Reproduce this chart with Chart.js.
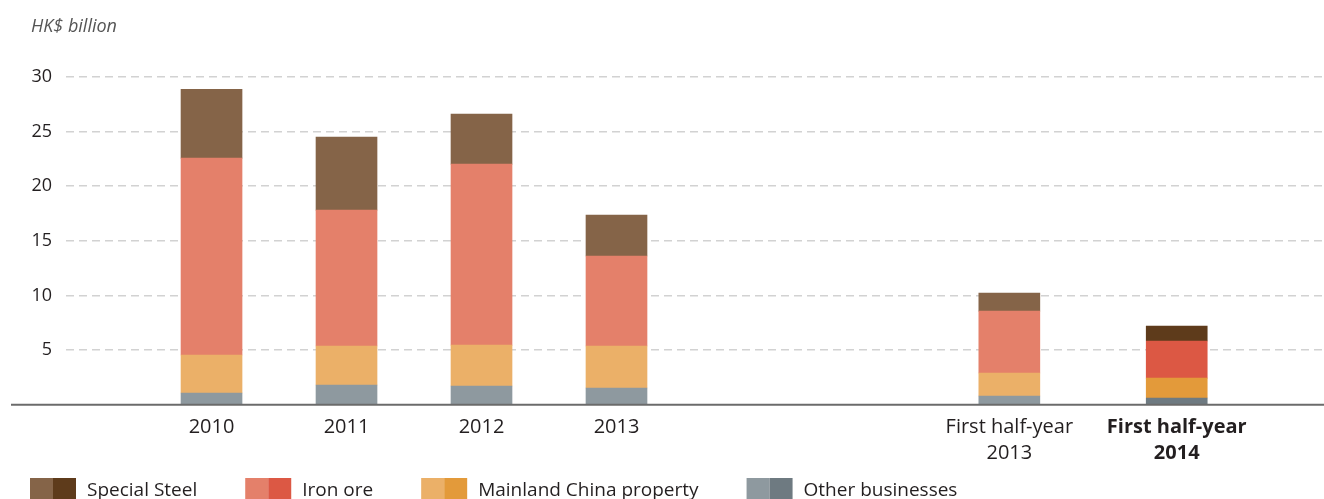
<!DOCTYPE html>
<html>
<head>
<meta charset="utf-8">
<script src="https://cdn.jsdelivr.net/npm/chart.js@4/dist/chart.umd.min.js"></script>
<style>
  body { margin: 0; background: #fff; }
  #chart { display: block; }
</style>
</head>
<body>
<canvas id="chart" width="1324" height="499"></canvas>
<script>
// categories (multi-line labels) and where they sit on the x axis
const periods = [['2010'], ['2011'], ['2012'], ['2013'], ['First half-year', '2013'], ['First half-year', '2014']];
const periodSlots = [0, 1, 2, 3, 5.91, 7.15];

// HK$ billion, bottom to top of each stack
const otherBusinesses = [1.07, 1.80, 1.71, 1.53, 0.80, 0.61];
const mainlandProperty = [3.48, 3.57, 3.75, 3.84, 2.10, 1.83];
const ironOre = [18.02, 12.44, 16.56, 8.24, 5.67, 3.39];
const specialSteel = [6.31, 6.68, 4.58, 3.75, 1.65, 1.37];

const yTicks = [0, 5, 10, 15, 20, 25, 30];

const FONT = "'Open Sans', sans-serif";
const TEXT = '#231f20';

// light colour for the past periods, dark one for the latest half-year
const series = [
  { label: 'Other businesses', data: otherBusinesses, light: '#8e999f', dark: '#6e7a81' },
  { label: 'Mainland China property', data: mainlandProperty, light: '#ebb068', dark: '#e39a3a' },
  { label: 'Iron ore', data: ironOre, light: '#e4806a', dark: '#dc5844' },
  { label: 'Special Steel', data: specialSteel, light: '#856448', dark: '#5e3b1b' }
];

const extras = {
  id: 'extras',
  afterDatasetsDraw(chart) {
    const { ctx } = chart;
    const y0 = chart.scales.y.getPixelForValue(0);
    ctx.save();
    ctx.strokeStyle = '#6b6b6b';
    ctx.lineWidth = 2;
    ctx.beginPath();
    ctx.moveTo(11, y0);
    ctx.lineTo(chart.width, y0);
    ctx.stroke();
    ctx.restore();
  },
  afterDraw(chart) {
    const { ctx } = chart;
    ctx.save();
    // unit label
    ctx.font = 'italic 18px ' + FONT;
    ctx.fillStyle = '#555';
    ctx.textBaseline = 'alphabetic';
    ctx.fillText('HK$ billion', 31, 32);

    // two-tone legend, top series first
    ctx.font = '19px ' + FONT;
    let x = 30;
    series.slice().reverse().forEach(s => {
      ctx.fillStyle = s.light;
      ctx.fillRect(x, 478, 23, 24);
      ctx.fillStyle = s.dark;
      ctx.fillRect(x + 23, 478, 23, 24);
      ctx.fillStyle = TEXT;
      ctx.fillText(s.label, x + 57, 496);
      x += 57 + ctx.measureText(s.label).width + 48;
    });
    ctx.restore();
  }
};

new Chart(document.getElementById('chart'), {
  type: 'bar',
  data: {
    datasets: series.map(s => ({
      label: s.label,
      data: s.data.map((v, i) => ({ x: periodSlots[i], y: v })),
      backgroundColor: s.data.map((v, i) => i === s.data.length - 1 ? s.dark : s.light),
      barThickness: 61,
      borderWidth: 0
    }))
  },
  options: {
    responsive: false,
    animation: false,
    devicePixelRatio: 1,
    layout: { padding: { top: 77, left: 0, right: 0, bottom: 0 } },
    plugins: {
      legend: { display: false },
      tooltip: { enabled: false }
    },
    scales: {
      x: {
        type: 'linear',
        stacked: true,
        offset: false,
        min: -1.078,
        max: 8.241,
        grid: { display: false, offset: false },
        border: { display: false },
        afterBuildTicks: scale => {
          scale.ticks = periodSlots.map(v => ({ value: v }));
        },
        afterFit: scale => { scale.height = 94.3; },
        ticks: {
          autoSkip: false,
          maxRotation: 0,
          padding: 2,
          color: TEXT,
          font: ctx => ({
            family: FONT,
            size: 20,
            lineHeight: 1.3,
            weight: ctx.index === periods.length - 1 ? 'bold' : 'normal'
          }),
          callback: (value, index) => periods[index]
        }
      },
      y: {
        stacked: true,
        min: yTicks[0],
        max: yTicks[yTicks.length - 1],
        afterBuildTicks: scale => {
          scale.ticks = yTicks.map(v => ({ value: v }));
        },
        afterFit: scale => { scale.width = 66; },
        border: { display: false, dash: [8, 5] },
        grid: {
          drawTicks: false,
          lineWidth: 1.5,
          color: ctx => ctx.tick && ctx.tick.value === 0 ? 'rgba(0,0,0,0)' : '#d2d2d2'
        },
        ticks: {
          padding: 14,
          color: TEXT,
          font: { family: FONT, size: 18 },
          callback: v => v === 0 ? '' : v
        }
      }
    }
  },
  plugins: [extras]
});
</script>
</body>
</html>
